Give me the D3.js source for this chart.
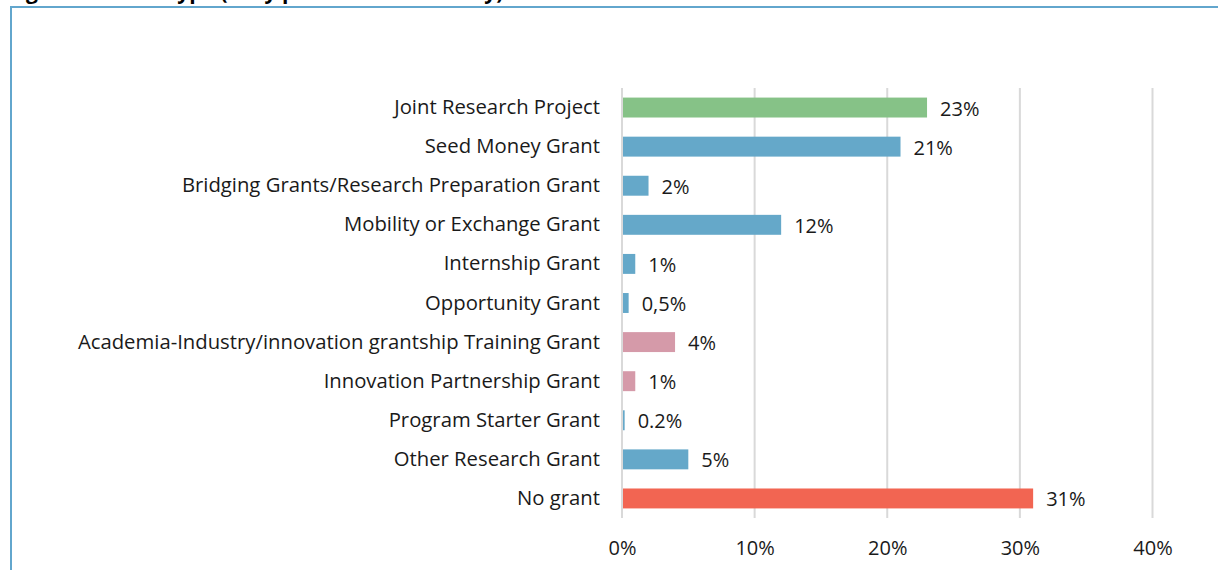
<!DOCTYPE html>
<html>
<head>
<meta charset="utf-8">
<script src="https://cdn.jsdelivr.net/npm/d3@7"></script>
<style>
  html, body { margin: 0; padding: 0; background: #ffffff; }
  svg { display: block; font-family: "Open Sans", "Noto Sans", sans-serif; }
</style>
</head>
<body>
<svg id="chart" width="1218" height="570"></svg>
<script>
// Grant types, top to bottom
const categories = [
  "Joint Research Project",
  "Seed Money Grant",
  "Bridging Grants/Research Preparation Grant",
  "Mobility or Exchange Grant",
  "Internship Grant",
  "Opportunity Grant",
  "Academia-Industry/innovation grantship Training Grant",
  "Innovation Partnership Grant",
  "Program Starter Grant",
  "Other Research Grant",
  "No grant"
];
// Share of respondents, in percent
const values = [23, 21, 2, 12, 1, 0.5, 4, 1, 0.2, 5, 31];
// Value labels as printed next to each bar
const valueLabels = ["23%", "21%", "2%", "12%", "1%", "0,5%", "4%", "1%", "0.2%", "5%", "31%"];
// Colour group of each bar
const groups = ["joint", "grant", "grant", "grant", "grant", "grant", "industry", "industry", "grant", "grant", "none"];
const groupColors = { joint: "#86c287", grant: "#65a8c9", industry: "#d59aa9", none: "#f26552" };
// X axis ticks
const xTicks = [0, 10, 20, 30, 40];
const xTickLabels = ["0%", "10%", "20%", "30%", "40%"];
const title = "Figure 8: Grant type (Only partners and faculty)";

const fontStack = "\"Open Sans\", \"Noto Sans\", sans-serif";
const svg = d3.select("#chart");

// Title line, running off the top edge of the page
svg.append("text")
  .attr("x", 8).attr("y", -1)
  .attr("font-size", 21).attr("font-weight", "bold")
  .attr("fill", "#000")
  .text(title);

// Frame around the chart
svg.append("rect")
  .attr("x", 11).attr("y", 7)
  .attr("width", 1230).attr("height", 600)
  .attr("fill", "#ffffff")
  .attr("stroke", "#62a6cd").attr("stroke-width", 2);

const plotLeft = 622, plotRight = 1152.5, plotTop = 88, plotBottom = 518;

const x = d3.scaleLinear().domain([0, 40]).range([plotLeft, plotRight]);
const y = d3.scaleBand().domain(categories).range([plotTop, plotBottom]).paddingInner(0.49).paddingOuter(0.245);

// Vertical gridlines
svg.append("g")
  .selectAll("line")
  .data(xTicks)
  .join("line")
  .attr("x1", d => x(d)).attr("x2", d => x(d))
  .attr("y1", plotTop).attr("y2", plotBottom)
  .attr("stroke", "#d9d9d9").attr("stroke-width", 2);

// Bottom axis labels
const xAxis = d3.axisBottom(x).tickValues(xTicks).tickSize(0).tickPadding(0)
  .tickFormat((d, i) => xTickLabels[i]);
const gx = svg.append("g").attr("transform", `translate(0, ${plotBottom + 23})`).call(xAxis);
gx.select(".domain").remove();
gx.selectAll("text")
  .attr("font-size", 20).attr("fill", "#1a1a1a")
  .attr("font-family", fontStack);

// Category labels
const yAxis = d3.axisLeft(y).tickSize(0).tickPadding(22);
const gy = svg.append("g").attr("transform", `translate(${plotLeft}, 0)`).call(yAxis);
gy.select(".domain").remove();
gy.selectAll("text")
  .attr("font-size", 20.3).attr("fill", "#1a1a1a")
  .attr("font-family", fontStack);

// Bars
svg.append("g")
  .selectAll("rect")
  .data(categories)
  .join("rect")
  .attr("x", x(0) + 1)
  .attr("y", d => y(d))
  .attr("width", (d, i) => Math.max(0, x(values[i]) - x(0) - 1))
  .attr("height", y.bandwidth())
  .attr("fill", (d, i) => groupColors[groups[i]]);

// Value labels
svg.append("g")
  .selectAll("text")
  .data(categories)
  .join("text")
  .attr("x", (d, i) => x(values[i]) + 13)
  .attr("y", d => y(d) + y.bandwidth() / 2 + 1)
  .attr("dy", "0.35em")
  .attr("font-size", 20).attr("fill", "#1a1a1a")
  .text((d, i) => valueLabels[i]);
</script>
</body>
</html>
